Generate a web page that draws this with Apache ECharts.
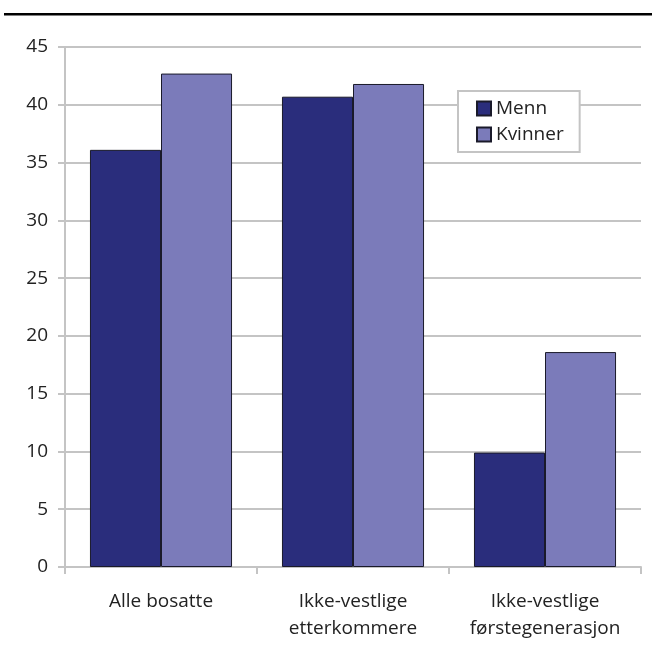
<!DOCTYPE html>
<html>
<head>
<meta charset="utf-8">
<script src="https://cdn.jsdelivr.net/npm/echarts@6/dist/echarts.min.js"></script>
<style>
html,body{margin:0;padding:0;background:#fff;}
#chart{width:652px;height:652px;}
</style>
</head>
<body>
<div id="chart"></div>
<script>
var categories = ['Alle bosatte', 'Ikke-vestlige\netterkommere', 'Ikke-vestlige\nførstegenerasjon'];
var menn = [36.1, 40.7, 9.9];
var kvinner = [42.7, 41.8, 18.6];
var yTicks = [0, 5, 10, 15, 20, 25, 30, 35, 40, 45];

var myChart = echarts.init(document.getElementById('chart'));
var font = '"Open Sans", "Noto Sans", sans-serif';
var gray = '#c4c4c4';

var option = {
    animation: false,
    textStyle: {fontFamily: font},
    graphic: [
        {type: 'rect', shape: {x: 4, y: 13, width: 648, height: 2.5}, style: {fill: '#000'}}
    ],
    legend: {
        data: ['Menn', 'Kvinner'],
        orient: 'vertical',
        icon: 'rect',
        left: 458, top: 91,
        padding: [8, 16, 8, 18],
        itemGap: 7,
        itemWidth: 14, itemHeight: 14,
        backgroundColor: '#fff',
        borderColor: gray, borderWidth: 2,
        textStyle: {fontSize: 19, color: '#222', fontFamily: font}
    },
    grid: {left: 65, right: 11, top: 47, bottom: 85, containLabel: false},
    xAxis: {
        type: 'category',
        data: categories,
        axisLine: {lineStyle: {color: gray, width: 2}},
        axisTick: {show: true, interval: 0, length: 7, lineStyle: {color: gray, width: 2}},
        axisLabel: {interval: 0, hideOverlap: false, fontSize: 19, color: '#222', margin: 21, lineHeight: 27, fontFamily: font}
    },
    yAxis: {
        type: 'value',
        min: yTicks[0], max: yTicks[yTicks.length - 1], interval: 5,
        axisLine: {show: true, lineStyle: {color: gray, width: 2}},
        axisTick: {show: true, length: 7, lineStyle: {color: gray, width: 2}},
        axisLabel: {fontSize: 19, color: '#222', margin: 17, fontFamily: font},
        splitLine: {lineStyle: {color: gray, width: 2}}
    },
    series: [
        {
            name: 'Menn', type: 'bar', data: menn,
            barCategoryGap: '26%', barGap: '0%',
            itemStyle: {color: '#2a2d7c', borderColor: '#1a1a2a', borderWidth: 1}
        },
        {
            name: 'Kvinner', type: 'bar', data: kvinner,
            barCategoryGap: '26%', barGap: '0%',
            itemStyle: {color: '#7b7bba', borderColor: '#1a1a2a', borderWidth: 1}
        }
    ]
};
myChart.setOption(option);
</script>
</body>
</html>
